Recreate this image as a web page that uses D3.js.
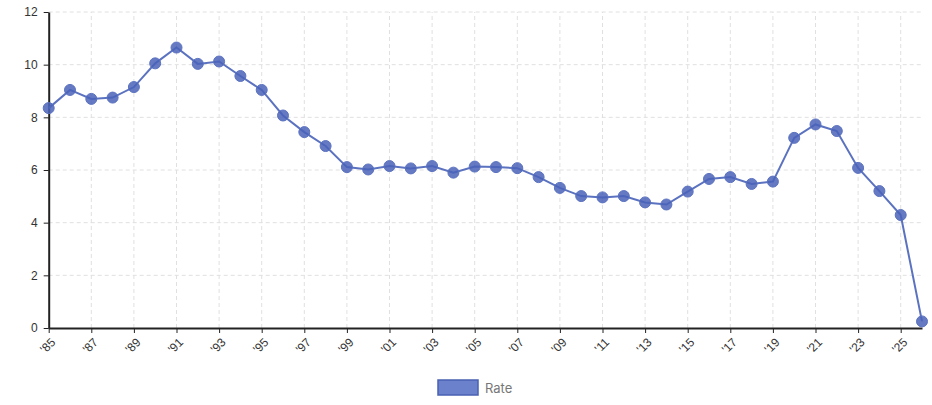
<!DOCTYPE html>
<html><head><meta charset="utf-8">
<script src="https://cdn.jsdelivr.net/npm/d3@7"></script>
<style>
body{margin:0;background:#fff;}
svg{display:block;font-family:Inter, "Noto Sans", sans-serif;}
</style></head>
<body><svg id="c" width="932" height="405"></svg>
<script>
const years = d3.range(1985, 2027);
const rates = [8.35,9.04,8.7,8.75,9.15,10.05,10.65,10.03,10.12,9.57,9.04,8.07,7.44,6.91,6.11,6.02,6.15,6.06,6.15,5.9,6.13,6.11,6.07,5.73,5.32,5.01,4.96,5.01,4.77,4.69,5.18,5.66,5.73,5.47,5.56,7.22,7.73,7.48,6.08,5.2,4.29,0.25];
const yTicks = [0,2,4,6,8,10,12];
const xTickYears = d3.range(1985, 2027, 2);
const seriesName = "Rate";

const svg = d3.select("#c");
const m = {l:48.7, r:932-922, t:12, b:405-328};
const W = 932, H = 405;
const x = d3.scalePoint().domain(years).range([m.l, W-m.r]);
const y = d3.scaleLinear().domain([0,12]).range([H-m.b, m.t]);

const grid = svg.append("g");
grid.selectAll("line.h").data(yTicks.slice(1)).join("line")
  .attr("x1", m.l).attr("x2", W-m.r).attr("y1", d=>y(d)).attr("y2", d=>y(d))
  .attr("stroke","#e0e0e0").attr("stroke-dasharray","4,3");
grid.selectAll("line.v").data(xTickYears.slice(1)).join("line")
  .attr("y1", y(0)).attr("y2", y(12)).attr("x1", d=>x(d)).attr("x2", d=>x(d))
  .attr("stroke","#e0e0e0").attr("stroke-dasharray","4,3");

const xa = svg.append("g").attr("transform",`translate(0,${y(0)})`)
  .call(d3.axisBottom(x).tickValues(xTickYears).tickSize(5).tickSizeOuter(0)
    .tickFormat(d=>"'"+String(d).slice(2)));
xa.select(".domain").attr("stroke","#222").attr("stroke-width",2);
xa.selectAll(".tick line").attr("stroke","#222");
xa.selectAll("text").attr("fill","#333").attr("font-size",12)
  .attr("text-anchor","end").attr("x",0).attr("y",0).attr("dy","0.35em")
  .attr("transform","translate(4,12) rotate(-45)");

const ya = svg.append("g").attr("transform",`translate(${m.l},0)`)
  .call(d3.axisLeft(y).tickValues(yTicks).tickSize(5).tickSizeOuter(0).tickPadding(6));
ya.select(".domain").attr("stroke","#222").attr("stroke-width",2);
ya.selectAll(".tick line").attr("stroke","#222");
ya.selectAll("text").attr("fill","#333").attr("font-size",12);

const data = years.map((yr,i)=>({yr, v:rates[i]}));
svg.append("path").datum(data)
  .attr("fill","none").attr("stroke","#5b72c0").attr("stroke-width",2)
  .attr("d", d3.line().x(d=>x(d.yr)).y(d=>y(d.v)));
svg.append("g").selectAll("circle").data(data).join("circle")
  .attr("cx", d=>x(d.yr)).attr("cy", d=>y(d.v)).attr("r",5.5)
  .attr("fill","#4a63b8").attr("fill-opacity",0.85)
  .attr("stroke","#5b72c0").attr("stroke-width",1);

const lg = svg.append("g").attr("transform","translate(438,380)");
lg.append("rect").attr("width",40).attr("height",15)
  .attr("fill","#6b81cb").attr("stroke","#4a60b2").attr("stroke-width",1.5);
lg.append("text").attr("x",47).attr("y",12.5).attr("font-size",13)
  .attr("fill","#777").text(seriesName);
</script></body></html>
